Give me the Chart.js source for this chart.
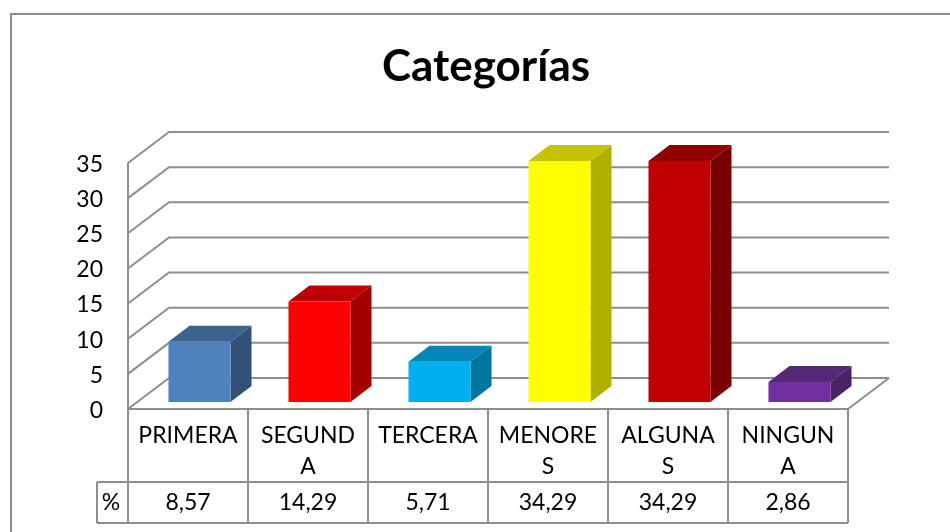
<!DOCTYPE html>
<html>
<head>
<meta charset="utf-8">
<title>Categorías</title>
<script src="https://cdn.jsdelivr.net/npm/chart.js@4"></script>
<style>
  html, body { margin: 0; padding: 0; background: #fff; }
  canvas { display: block; }
</style>
</head>
<body>
<canvas id="chart" width="950" height="532"></canvas>
<script>
  const categories = [["PRIMERA"], ["SEGUND", "A"], ["TERCERA"], ["MENORE", "S"], ["ALGUNA", "S"], ["NINGUN", "A"]];
  const values = [8.57, 14.29, 5.71, 34.29, 34.29, 2.86];
  const frontColors = ["#4F81BD", "#FF0000", "#00B0F0", "#FFFF00", "#C00000", "#7030A0"];
  const topColors = ["#3C6290", "#C00000", "#0087B8", "#C4C400", "#8F0000", "#562878"];
  const sideColors = ["#325078", "#A00000", "#0075A0", "#AFAF00", "#780000", "#4A2268"];

  const LINE = "#8E8E8E";
  const FONT = "Lato, Carlito, sans-serif";

  function line(ctx, pts) {
    ctx.beginPath();
    pts.forEach((p, i) => (i ? ctx.lineTo(p[0], p[1]) : ctx.moveTo(p[0], p[1])));
    ctx.stroke();
  }

  function poly(ctx, pts, color) {
    ctx.fillStyle = color;
    ctx.beginPath();
    pts.forEach((p, i) => (i ? ctx.lineTo(p[0], p[1]) : ctx.moveTo(p[0], p[1])));
    ctx.closePath();
    ctx.fill();
  }

  // paredes en perspectiva, caras 3D de las barras y tabla de datos
  const box3d = {
    id: "box3d",
    afterLayout(chart) {
      chart.titleBlock.left = 22;
      chart.titleBlock.right = 950;
    },
    beforeDatasetsDraw(chart) {
      const { ctx, scales: { x, y } } = chart;
      const dx = 41, dy = 31;
      const left = x.left, right = x.right;
      ctx.save();
      ctx.strokeStyle = LINE;
      ctx.lineWidth = 2;
      // marco exterior
      line(ctx, [[11, 532], [11, 14], [950, 14]]);
      // rejilla
      y.ticks.forEach((t) => {
        const py = y.getPixelForValue(t.value);
        line(ctx, [[left, py], [left + dx, py - dy], [right + dx, py - dy]]);
      });
      line(ctx, [[left, y.top], [left, y.bottom]]);
      line(ctx, [[right, y.bottom], [right + dx, y.bottom - dy]]);
      ctx.restore();

      // las barras van a media profundidad del suelo
      ctx.save();
      ctx.translate(11.5, -7);
      chart.getDatasetMeta(0).data.forEach((bar, i) => {
        const r = bar.x + bar.width / 2, l = bar.x - bar.width / 2;
        const d = 21, h = 16;
        poly(ctx, [[r, bar.y], [r + d, bar.y - h], [r + d, bar.base - h], [r, bar.base]], sideColors[i]);
        poly(ctx, [[l, bar.y], [l + d, bar.y - h], [r + d, bar.y - h], [r, bar.y]], topColors[i]);
      });
    },
    afterDatasetsDraw(chart) {
      const { ctx, scales: { x, y } } = chart;
      ctx.restore();

      // tabla de datos bajo el eje
      const top = y.bottom, mid = 482, bottom = 523;
      const step = (x.right - x.left) / categories.length;
      ctx.save();
      ctx.strokeStyle = LINE;
      ctx.lineWidth = 2;
      line(ctx, [[x.left, top], [x.right, top]]);
      line(ctx, [[97, mid], [x.right, mid]]);
      line(ctx, [[97, bottom], [x.right, bottom]]);
      line(ctx, [[97, mid], [97, bottom]]);
      for (let i = 0; i <= categories.length; i++) {
        const px = x.left + step * i;
        line(ctx, [[px, top], [px, bottom]]);
      }
      ctx.fillStyle = "#000";
      ctx.font = "23px " + FONT;
      ctx.textAlign = "center";
      ctx.textBaseline = "middle";
      ctx.fillText("%", 111, 503);
      values.forEach((v, i) => {
        ctx.fillText(v.toFixed(2).replace(".", ","), x.getPixelForValue(i), 503);
      });
      ctx.restore();
    },
  };

  new Chart(document.getElementById("chart"), {
    type: "bar",
    data: {
      labels: categories,
      datasets: [{
        data: values,
        backgroundColor: frontColors,
        categoryPercentage: 1,
        barPercentage: 0.517,
        clip: false,
      }],
    },
    options: {
      responsive: false,
      animation: false,
      layout: { padding: { right: 102 } },
      plugins: {
        legend: { display: false },
        tooltip: { enabled: false },
        title: {
          display: true,
          text: "Categorías",
          color: "#000",
          font: { family: FONT, size: 44, weight: "bold" },
          padding: { top: 40, bottom: 70.2 },
        },
      },
      scales: {
        x: {
          grid: { display: false, drawTicks: false },
          border: { display: false },
          afterFit(s) { s.height = 123; },
          ticks: {
            color: "#000",
            autoSkip: false,
            maxRotation: 0,
            padding: 11,
            font: { family: FONT, size: 23, lineHeight: 1.35 },
          },
        },
        y: {
          min: 0,
          max: 35,
          grid: { display: false, drawTicks: false },
          border: { display: false },
          afterFit(s) { s.width = 128; },
          ticks: {
            color: "#000",
            stepSize: 5,
            padding: 25,
            labelOffset: 1.5,
            font: { family: FONT, size: 23 },
          },
        },
      },
    },
    plugins: [box3d],
  });
</script>
</body>
</html>
